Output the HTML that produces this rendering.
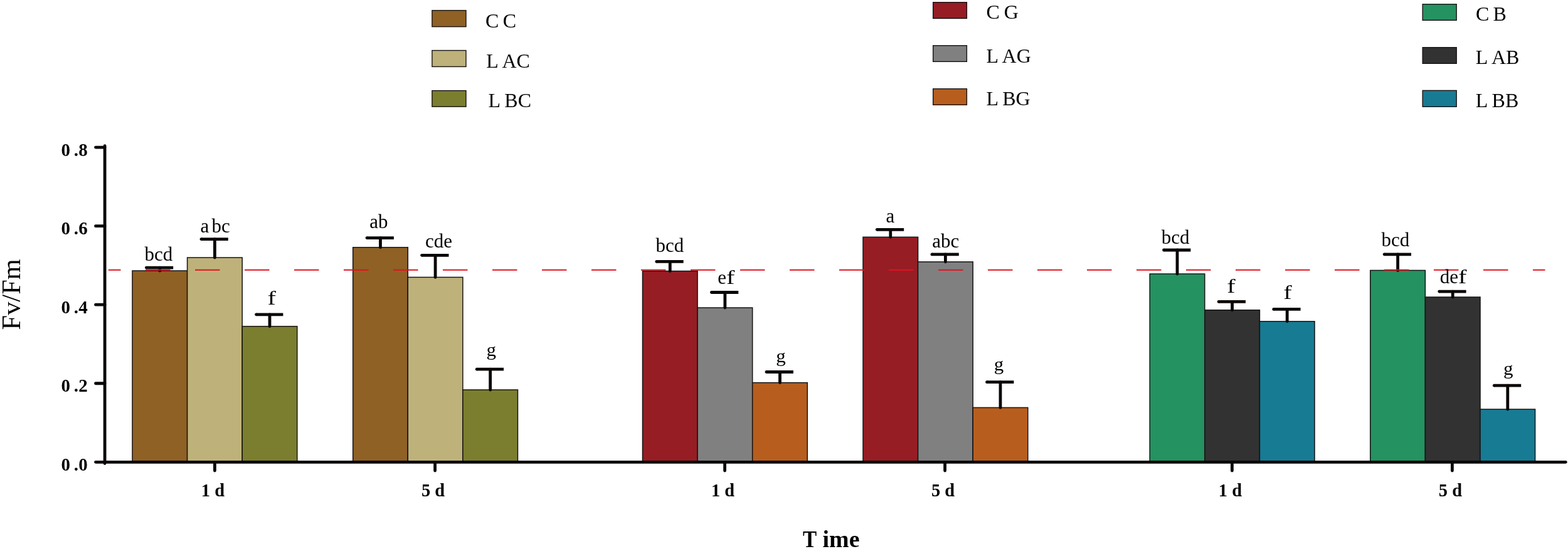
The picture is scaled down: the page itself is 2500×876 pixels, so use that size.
<!DOCTYPE html>
<html><head><meta charset="utf-8"><title>Fv/Fm chart</title>
<style>
html,body{margin:0;padding:0;background:#fff;}
body{width:2500px;height:876px;overflow:hidden;}
svg{display:block;}
text{font-family:"Liberation Serif","Times New Roman",serif;fill:#000;font-kerning:none;}
.b{font-weight:bold;}
</style></head><body>
<svg width="2500" height="876" viewBox="0 0 2500 876">
<rect x="0" y="0" width="2500" height="876" fill="#fff"/>
<g id="legend">
<rect x="688.9" y="16.6" width="54.1" height="26.0" fill="#8F6125" stroke="#171313" stroke-width="1.4"/>
<text x="774.0 795.3 801.7" y="43.6" font-size="32">C C</text>
<rect x="688.9" y="80.5" width="54.1" height="25.9" fill="#BEB27A" stroke="#171313" stroke-width="1.4"/>
<text x="775.3 794.9 800.4" y="107.6" font-size="32">L AC</text>
<rect x="688.9" y="144.6" width="54.1" height="25.6" fill="#7B7E2E" stroke="#171313" stroke-width="1.4"/>
<text x="778.5 798.1 804.3" y="171.4" font-size="32">L BC</text>
<rect x="1487.7" y="3.7" width="53.7" height="25.6" fill="#961D24" stroke="#171313" stroke-width="1.4"/>
<text x="1572.4 1593.7 1600.8" y="30.4" font-size="32">C G</text>
<rect x="1487.7" y="72.7" width="53.7" height="25.6" fill="#808080" stroke="#171313" stroke-width="1.4"/>
<text x="1572.4 1592.0 1597.6" y="99.6" font-size="32">L AG</text>
<rect x="1487.7" y="141.7" width="53.7" height="25.6" fill="#B75E1E" stroke="#171313" stroke-width="1.4"/>
<text x="1572.4 1592.0 1598.2" y="168.3" font-size="32">L BG</text>
<rect x="2268.2" y="6.7" width="54.0" height="25.6" fill="#249261" stroke="#171313" stroke-width="1.4"/>
<text x="2352.9 2374.2 2380.5" y="33.2" font-size="32">C B</text>
<rect x="2268.2" y="75.7" width="54.0" height="25.6" fill="#313231" stroke="#171313" stroke-width="1.4"/>
<text x="2352.8 2372.4 2377.9" y="102.3" font-size="32">L AB</text>
<rect x="2268.2" y="144.4" width="54.0" height="25.9" fill="#177B94" stroke="#171313" stroke-width="1.4"/>
<text x="2352.8 2372.4 2378.6" y="171.2" font-size="32">L BB</text>
</g>
<g id="bars" stroke="#171313" stroke-width="1.5">
<rect x="211.0" y="432.0" width="87.6" height="305.3" fill="#8F6125"/>
<rect x="298.6" y="411.0" width="87.6" height="326.3" fill="#BEB27A"/>
<rect x="386.2" y="520.7" width="87.6" height="216.6" fill="#7B7E2E"/>
<rect x="562.7" y="394.7" width="87.6" height="342.6" fill="#8F6125"/>
<rect x="650.3" y="442.4" width="87.6" height="294.9" fill="#BEB27A"/>
<rect x="737.9" y="622.0" width="87.6" height="115.3" fill="#7B7E2E"/>
<rect x="1024.5" y="432.5" width="87.6" height="304.8" fill="#961D24"/>
<rect x="1112.1" y="491.0" width="87.6" height="246.3" fill="#808080"/>
<rect x="1199.7" y="610.6" width="87.6" height="126.7" fill="#B75E1E"/>
<rect x="1376.0" y="378.3" width="87.6" height="359.0" fill="#961D24"/>
<rect x="1463.6" y="417.8" width="87.6" height="319.5" fill="#808080"/>
<rect x="1551.2" y="650.4" width="87.6" height="86.9" fill="#B75E1E"/>
<rect x="1833.2" y="437.0" width="87.6" height="300.3" fill="#249261"/>
<rect x="1920.8" y="494.7" width="87.6" height="242.6" fill="#313231"/>
<rect x="2008.4" y="512.8" width="87.6" height="224.5" fill="#177B94"/>
<rect x="2184.8" y="431.4" width="87.6" height="305.9" fill="#249261"/>
<rect x="2272.4" y="474.0" width="87.6" height="263.3" fill="#313231"/>
<rect x="2360.0" y="653.0" width="87.6" height="84.3" fill="#177B94"/>
</g>
<g id="err" stroke="#0a0606" stroke-width="4.8" fill="none">
<path d="M254.8 432.0V427.1" stroke-linecap="round"/>
<path d="M233.3 427.05H276.2"/>
<circle cx="233.3" cy="427.05" r="2.4" fill="#0a0606" stroke="none"/>
<path d="M342.4 411.0V381.6" stroke-linecap="round"/>
<path d="M320.9 381.60H363.8"/>
<circle cx="320.9" cy="381.60" r="2.4" fill="#0a0606" stroke="none"/>
<path d="M430.0 520.7V501.8" stroke-linecap="round"/>
<path d="M408.5 501.80H451.4"/>
<circle cx="408.5" cy="501.80" r="2.4" fill="#0a0606" stroke="none"/>
<path d="M606.5 394.7V379.6" stroke-linecap="round"/>
<path d="M585.0 379.60H627.9"/>
<circle cx="585.0" cy="379.60" r="2.4" fill="#0a0606" stroke="none"/>
<path d="M694.1 442.4V407.4" stroke-linecap="round"/>
<path d="M672.6 407.35H715.5"/>
<circle cx="672.6" cy="407.35" r="2.4" fill="#0a0606" stroke="none"/>
<path d="M781.7 622.0V589.2" stroke-linecap="round"/>
<path d="M760.2 589.20H803.1"/>
<circle cx="760.2" cy="589.20" r="2.4" fill="#0a0606" stroke="none"/>
<path d="M1068.3 432.5V417.4" stroke-linecap="round"/>
<path d="M1046.8 417.40H1089.7"/>
<circle cx="1046.8" cy="417.40" r="2.4" fill="#0a0606" stroke="none"/>
<path d="M1155.9 491.0V466.5" stroke-linecap="round"/>
<path d="M1134.4 466.50H1177.3"/>
<circle cx="1134.4" cy="466.50" r="2.4" fill="#0a0606" stroke="none"/>
<path d="M1243.5 610.6V593.5" stroke-linecap="round"/>
<path d="M1222.0 593.50H1264.9"/>
<circle cx="1222.0" cy="593.50" r="2.4" fill="#0a0606" stroke="none"/>
<path d="M1419.8 378.3V366.4" stroke-linecap="round"/>
<path d="M1398.3 366.35H1441.2"/>
<circle cx="1398.3" cy="366.35" r="2.4" fill="#0a0606" stroke="none"/>
<path d="M1507.4 417.8V405.9" stroke-linecap="round"/>
<path d="M1485.9 405.90H1528.8"/>
<circle cx="1485.9" cy="405.90" r="2.4" fill="#0a0606" stroke="none"/>
<path d="M1595.0 650.4V609.6" stroke-linecap="round"/>
<path d="M1573.5 609.65H1616.4"/>
<circle cx="1573.5" cy="609.65" r="2.4" fill="#0a0606" stroke="none"/>
<path d="M1877.0 437.0V399.0" stroke-linecap="round"/>
<path d="M1855.5 399.00H1898.4"/>
<circle cx="1855.5" cy="399.00" r="2.4" fill="#0a0606" stroke="none"/>
<path d="M1964.6 494.7V481.4" stroke-linecap="round"/>
<path d="M1943.1 481.40H1986.0"/>
<circle cx="1943.1" cy="481.40" r="2.4" fill="#0a0606" stroke="none"/>
<path d="M2052.2 512.8V493.4" stroke-linecap="round"/>
<path d="M2030.7 493.40H2073.6"/>
<circle cx="2030.7" cy="493.40" r="2.4" fill="#0a0606" stroke="none"/>
<path d="M2228.6 431.4V405.8" stroke-linecap="round"/>
<path d="M2207.1 405.80H2250.0"/>
<circle cx="2207.1" cy="405.80" r="2.4" fill="#0a0606" stroke="none"/>
<path d="M2316.2 474.0V465.1" stroke-linecap="round"/>
<path d="M2294.7 465.10H2337.6"/>
<circle cx="2294.7" cy="465.10" r="2.4" fill="#0a0606" stroke="none"/>
<path d="M2403.8 653.0V615.2" stroke-linecap="round"/>
<path d="M2382.3 615.20H2425.2"/>
<circle cx="2382.3" cy="615.20" r="2.4" fill="#0a0606" stroke="none"/>
</g>
<line x1="172.8" y1="430.8" x2="2463.5" y2="430.8" stroke="#e3121e" stroke-width="1.9" stroke-dasharray="39.5 39.5" stroke-dashoffset="19.8"/>
<g id="labels" font-size="31">
<text x="230.5" y="416.1">bcd</text>
<text x="319.4 333.3 337.4" y="371.1">a bc</text>
<text x="426.62" y="486.2" textLength="13.42" lengthAdjust="spacingAndGlyphs">f</text>
<text x="589.3" y="364.1">ab</text>
<text x="677.9" y="395.2">cde</text>
<text x="775.4" y="568.3" transform="translate(0 563.70) scale(1 0.93) translate(0 -563.70)">g</text>
<text x="1045.4" y="402.1">bcd</text>
<text x="1144.2" y="453.0">e<tspan x="1157.96" textLength="13.42" lengthAdjust="spacingAndGlyphs">f</tspan></text>
<text x="1237.3" y="578.2" transform="translate(0 573.55) scale(1 0.93) translate(0 -573.55)">g</text>
<text x="1412.6" y="355.1">a</text>
<text x="1486.3" y="394.9">abc</text>
<text x="1584.8" y="591.7" transform="translate(0 587.10) scale(1 0.93) translate(0 -587.10)">g</text>
<text x="1851.7" y="389.3">bcd</text>
<text x="1956.22" y="466.6" textLength="13.42" lengthAdjust="spacingAndGlyphs">f</text>
<text x="2046.27" y="476.7" textLength="13.42" lengthAdjust="spacingAndGlyphs">f</text>
<text x="2202.5" y="393.0">bcd</text>
<text x="2295.7" y="452.4">de<tspan x="2324.91" textLength="13.42" lengthAdjust="spacingAndGlyphs">f</tspan></text>
<text x="2396.9" y="598.2" transform="translate(0 593.60) scale(1 0.93) translate(0 -593.60)">g</text>
</g>
<g id="axes" stroke="#0a0606" stroke-width="4.8" stroke-linecap="round" fill="none">
<path d="M167.1 232.7V739.5"/>
<path d="M167.1 737.3H2496.3"/>
<path d="M152.5 737.3H167"/>
<path d="M152.5 611.75H167"/>
<path d="M152.5 486.2H167"/>
<path d="M152.5 360.65H167"/>
<path d="M152.5 235.1H167"/>
<path d="M342.4 737.3V751"/>
<path d="M693.6 737.3V751"/>
<path d="M1155.6 737.3V751"/>
<path d="M1506.6 737.3V751"/>
<path d="M1964.4 737.3V751"/>
<path d="M2315.4 737.3V751"/>
</g>
<g id="ylab" font-size="29">
<text class="b" x="97.6 117.7 125.3" y="750.7">0.0</text>
<text class="b" x="97.6 117.7 125.3" y="625.1">0.2</text>
<text class="b" x="97.6 117.7 125.3" y="499.6">0.4</text>
<text class="b" x="97.6 117.7 125.3" y="374.0">0.6</text>
<text class="b" x="97.6 117.7 125.3" y="248.5">0.8</text>
</g>
<g id="xlab" font-size="28.5" text-anchor="middle">
<text class="b" x="339.4" y="791.5">1 d</text>
<text class="b" x="690.6" y="791.5">5 d</text>
<text class="b" x="1152.6" y="791.5">1 d</text>
<text class="b" x="1503.6" y="791.5">5 d</text>
<text class="b" x="1961.4" y="791.5">1 d</text>
<text class="b" x="2312.4" y="791.5">5 d</text>
</g>
<text class="b" y="872.55" font-size="38"><tspan x="1279.9" textLength="22.2" lengthAdjust="spacingAndGlyphs">T</tspan><tspan x="1302"> </tspan><tspan x="1311.6" textLength="58.9" lengthAdjust="spacingAndGlyphs">ime</tspan></text>
<text x="0" y="0" font-size="42.4" transform="translate(32.35 526.4) rotate(-90)">Fv/Fm</text>
</svg></body></html>
